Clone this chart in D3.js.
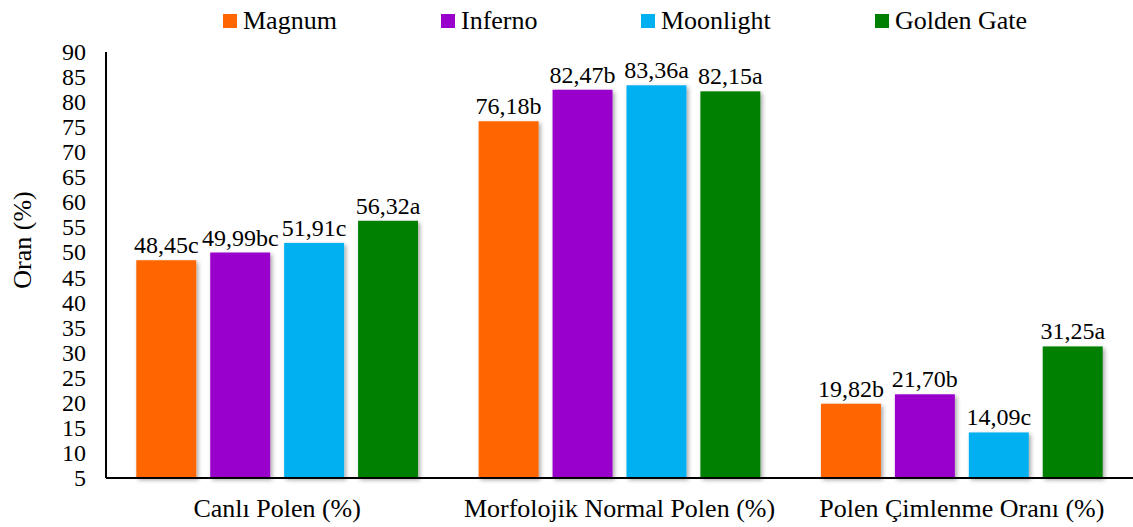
<!DOCTYPE html>
<html>
<head>
<meta charset="utf-8">
<script src="https://cdn.jsdelivr.net/npm/d3@7"></script>
</head>
<body style="margin:0">
<svg id="chart" width="1133" height="527"></svg>
<script>
const categories = ["Canlı Polen (%)", "Morfolojik Normal Polen (%)", "Polen Çimlenme Oranı (%)"];
const seriesNames = ["Magnum", "Inferno", "Moonlight", "Golden Gate"];
const seriesColors = ["#FF6600", "#9900CC", "#00B0F0", "#008000"];
const magnum    = [48.45, 76.18, 19.82];
const inferno   = [49.99, 82.47, 21.70];
const moonlight = [51.91, 83.36, 14.09];
const goldenGate = [56.32, 82.15, 31.25];
const magnumLabels    = ["48,45c", "76,18b", "19,82b"];
const infernoLabels   = ["49,99bc", "82,47b", "21,70b"];
const moonlightLabels = ["51,91c", "83,36a", "14,09c"];
const goldenGateLabels = ["56,32a", "82,15a", "31,25a"];
const yTicks = [5,10,15,20,25,30,35,40,45,50,55,60,65,70,75,80,85,90];
const yTitle = "Oran (%)";

(function () {
const FONT = "Liberation Serif";
const seriesValues = [magnum, inferno, moonlight, goldenGate];
const seriesLabels = [magnumLabels, infernoLabels, moonlightLabels, goldenGateLabels];

const svg = d3.select("#chart");
const mLeft = 106, mRight = 1133, mTop = 52, mBottom = 478;

const defs = svg.append("defs");
const f = defs.append("filter").attr("id", "shadow").attr("x", "-20%").attr("y", "-10%").attr("width", "150%").attr("height", "130%");
f.append("feDropShadow").attr("dx", 2).attr("dy", 2).attr("stdDeviation", 2.2).attr("flood-color", "#000").attr("flood-opacity", 0.35);

const y = d3.scaleLinear().domain([5, 90]).range([mBottom, mTop]);
const x0 = d3.scaleBand().domain(categories).range([mLeft, mRight]).paddingInner(0).paddingOuter(0);
const x1 = d3.scaleBand().domain(seriesNames).range([0, x0.bandwidth()]).paddingInner(0.189).paddingOuter(0.41);

const data = [];
categories.forEach((c, ci) => {
  seriesNames.forEach((s, si) => {
    data.push({c, s, v: seriesValues[si][ci], label: seriesLabels[si][ci], color: seriesColors[si]});
  });
});

const g = svg.append("g");
g.selectAll("rect.bar").data(data).enter().append("rect")
  .attr("class", "bar")
  .attr("x", d => x0(d.c) + x1(d.s))
  .attr("y", d => y(d.v))
  .attr("width", x1.bandwidth())
  .attr("height", d => y(5) - y(d.v))
  .attr("fill", d => d.color)
  .attr("filter", "url(#shadow)");

g.selectAll("text.val").data(data).enter().append("text")
  .attr("class", "val")
  .attr("x", d => x0(d.c) + x1(d.s) + x1.bandwidth() / 2)
  .attr("y", d => y(d.v) - 7)
  .attr("text-anchor", "middle")
  .attr("font-size", 24)
  .style("font-family", FONT)
  .attr("fill", "#000")
  .text(d => d.label);

// y axis drawn manually with scale
svg.append("line").attr("x1", mLeft).attr("x2", mLeft).attr("y1", mTop).attr("y2", mBottom)
  .attr("stroke", "#000").attr("stroke-width", 2);
svg.selectAll("text.ytick").data(yTicks).enter().append("text")
  .attr("class", "ytick")
  .attr("x", mLeft - 20)
  .attr("y", d => y(d) + 8)
  .attr("text-anchor", "end")
  .attr("font-size", 24)
  .style("font-family", FONT)
  .attr("fill", "#000")
  .text(d => d);

// x axis
svg.append("line").attr("x1", mLeft).attr("x2", mRight).attr("y1", mBottom).attr("y2", mBottom)
  .attr("stroke", "#000").attr("stroke-width", 2);
svg.selectAll("text.xtick").data(categories).enter().append("text")
  .attr("class", "xtick")
  .attr("x", d => x0(d) + x0.bandwidth() / 2)
  .attr("y", mBottom + 39)
  .attr("text-anchor", "middle")
  .attr("font-size", 26)
  .style("font-family", FONT)
  .attr("fill", "#000")
  .text(d => d);

svg.append("text")
  .attr("transform", `translate(31,240) rotate(-90)`)
  .attr("text-anchor", "middle")
  .attr("font-size", 26)
  .style("font-family", FONT)
  .attr("fill", "#000")
  .text(yTitle);

const legendX = d3.scaleOrdinal().domain(seriesNames).range([223, 441, 641, 875]);
const lg = svg.selectAll("g.leg").data(seriesNames).enter().append("g")
  .attr("class", "leg")
  .attr("transform", d => `translate(${legendX(d)},0)`);
lg.append("rect").attr("x", 0).attr("y", 14).attr("width", 14).attr("height", 14)
  .attr("fill", (d, i) => seriesColors[i]);
lg.append("text").attr("x", 20).attr("y", 29).attr("font-size", 26)
  .style("font-family", FONT).attr("fill", "#000").text(d => d);
})();
</script>
</body>
</html>
